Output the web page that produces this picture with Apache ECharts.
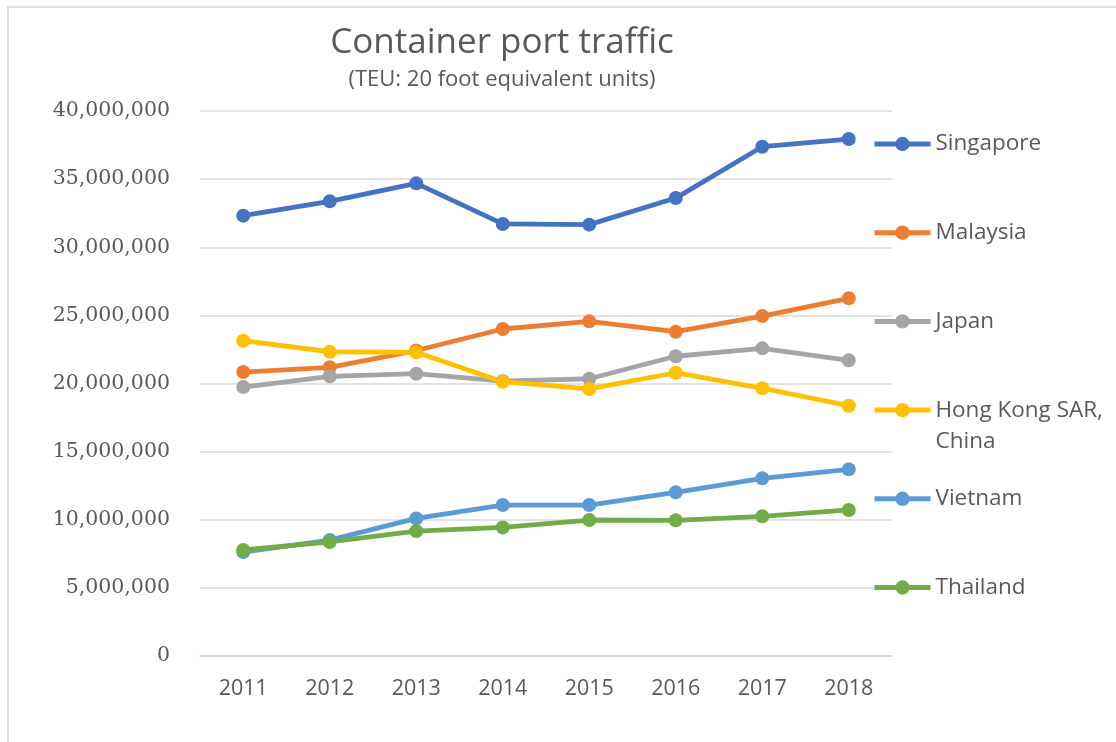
<!DOCTYPE html>
<html>
<head>
<meta charset="utf-8">
<script src="https://cdn.jsdelivr.net/npm/echarts@6/dist/echarts.min.js"></script>
<style>
  html, body { margin: 0; padding: 0; background: #fff; overflow: hidden; }
  #frame { position: absolute; left: 7px; top: 6px; width: 1300px; height: 900px; border: 2px solid #dcdcdc; }
  #chart { position: absolute; left: 0; top: 0; width: 1116px; height: 742px; }
</style>
</head>
<body>
<div id="frame"></div>
<div id="chart"></div>
<script>
// categories
const years = ['2011', '2012', '2013', '2014', '2015', '2016', '2017', '2018'];
// series values (TEU)
const singapore = [32320000, 33370000, 34690000, 31710000, 31660000, 33610000, 37380000, 37940000];
const malaysia = [20840000, 21190000, 22420000, 24000000, 24560000, 23800000, 24950000, 26250000];
const japan = [19740000, 20530000, 20720000, 20180000, 20350000, 22000000, 22580000, 21700000];
const hongKong = [23140000, 22330000, 22290000, 20130000, 19600000, 20790000, 19650000, 18370000];
const vietnam = [7630000, 8510000, 10100000, 11080000, 11080000, 12010000, 13040000, 13700000];
const thailand = [7780000, 8370000, 9170000, 9440000, 9980000, 9960000, 10250000, 10720000];

const seriesNames = ['Singapore', 'Malaysia', 'Japan', 'Hong Kong SAR, China', 'Vietnam', 'Thailand'];
const seriesValues = [singapore, malaysia, japan, hongKong, vietnam, thailand];
const colors = ['#4472C4', '#ED7D31', '#A5A5A5', '#FFC000', '#5B9BD5', '#70AD47'];

const textColor = '#595959';
const sansFont = '"Open Sans", "Noto Sans", sans-serif';

const chart = echarts.init(document.getElementById('chart'));

// one legend per entry, stacked down the right side
const legendCenterTop = 144;
const legendStep = 88.7;
const legends = seriesNames.map((name, i) => {
    const centerY = legendCenterTop + i * legendStep;
    const twoLine = name.indexOf('Hong Kong') === 0;
    return {
        data: [name],
        orient: 'vertical',
        left: 872,
        // the wrapped label gets an empty first line so its first line sits on the icon
        top: twoLine ? centerY - 46.5 : centerY - 15.5,
        padding: 0,
        itemWidth: 56,
        itemHeight: 18,
        selectedMode: false,
        lineStyle: { width: 5 },
        formatter: (n) => n === 'Hong Kong SAR, China' ? ' \nHong Kong SAR,\nChina' : n,
        textStyle: {
            color: textColor,
            fontFamily: sansFont,
            fontSize: 22.5,
            lineHeight: 31
        }
    };
});

const option = {
    animation: false,
    color: colors,
    graphic: [
        {
            type: 'text', x: 502, y: 43,
            style: { text: 'Container port traffic', fill: textColor, font: '35px ' + sansFont, align: 'center', verticalAlign: 'middle' }
        },
        {
            type: 'text', x: 502, y: 80,
            style: { text: '(TEU: 20 foot equivalent units)', fill: textColor, font: '22px ' + sansFont, align: 'center', verticalAlign: 'middle' }
        }
    ],
    legend: legends,
    grid: { left: 200, right: 224, top: 111, bottom: 86 },
    xAxis: {
        type: 'category',
        data: years,
        boundaryGap: true,
        axisLine: { show: true, lineStyle: { color: '#D9D9D9', width: 1.5 } },
        axisTick: { show: false },
        axisLabel: { color: textColor, fontFamily: sansFont, fontSize: 21.5, margin: 22 }
    },
    yAxis: {
        type: 'value',
        min: 0,
        max: 40000000,
        interval: 5000000,
        axisLine: { show: false },
        axisTick: { show: false },
        splitLine: { lineStyle: { color: '#D9D9D9', width: 1.5 } },
        axisLabel: {
            color: textColor,
            fontFamily: '"DejaVu Serif", serif',
            fontSize: 20.5,
            margin: 30,
            formatter: (v) => v.toLocaleString('en-US')
        }
    },
    series: seriesNames.map((name, i) => ({
        name: name,
        type: 'line',
        data: seriesValues[i],
        symbol: 'circle',
        symbolSize: 14,
        lineStyle: { width: 4.8, color: colors[i] },
        itemStyle: { color: colors[i] }
    }))
};

chart.setOption(option);
</script>
</body>
</html>
